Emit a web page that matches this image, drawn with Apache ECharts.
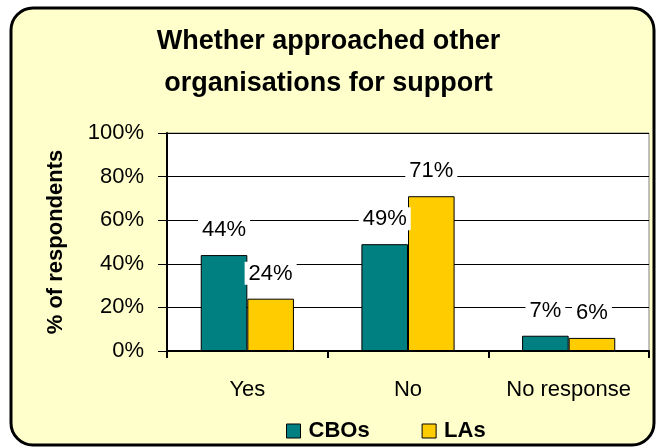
<!DOCTYPE html>
<html><head><meta charset="utf-8">
<script src="https://cdn.jsdelivr.net/npm/echarts@6/dist/echarts.min.js"></script>
<style>html,body{margin:0;padding:0;background:#fff}#c{width:657px;height:448px}</style>
</head><body><div id="c"></div>
<script>
const categories = ['Yes', 'No', 'No response'];
const seriesNames = ['CBOs', 'LAs'];
const cbosValues = [44, 49, 7];
const lasValues = [24, 71, 6];
const yTickValues = [0, 20, 40, 60, 80, 100];
const titleText = 'Whether approached other\norganisations for support';
const yAxisTitle = '% of respondents';

const FONT = '"Liberation Sans", Arial, sans-serif';
const chart = echarts.init(document.getElementById('c'), null, {renderer: 'canvas'});

function barSeries(name, values, color) {
  return {
    name: name,
    type: 'bar',
    data: values,
    barGap: '0%',
    barCategoryGap: '42%',
    itemStyle: {color: color, borderColor: '#000', borderWidth: 1},
    label: {
      show: true, position: 'top', distance: 14,
      formatter: '{c}%', color: '#000', fontFamily: FONT, fontSize: 22,
      backgroundColor: '#fff', padding: [1, 4, 0, 4]
    },
    labelLayout: {hideOverlap: false},
    emphasis: {disabled: true},
    z: 3
  };
}

chart.setOption({
  animation: false,
  backgroundColor: 'transparent',
  graphic: [{
    type: 'rect', z: -10,
    shape: {x: 11, y: 8, width: 643, height: 437, r: 22},
    style: {fill: '#FFFFCC', stroke: '#000', lineWidth: 3}
  }],
  title: {
    text: titleText, left: 'center', top: 21, padding: 0,
    textStyle: {fontFamily: FONT, fontSize: 27, fontWeight: 'bold', color: '#000', lineHeight: 42}
  },
  legend: {
    data: seriesNames, left: 286, top: 420, padding: 0,
    itemWidth: 14, itemHeight: 14, itemGap: 52, icon: 'rect',
    itemStyle: {borderColor: '#000', borderWidth: 1},
    textStyle: {fontFamily: FONT, fontSize: 22, fontWeight: 'bold', color: '#000', padding: [0, 0, 0, 3]},
    selectedMode: false
  },
  grid: {
    left: 167, right: 8, top: 133, bottom: 97,
    show: true, backgroundColor: '#fff', borderColor: '#808080', borderWidth: 1
  },
  xAxis: {
    type: 'category', data: categories,
    axisLine: {lineStyle: {color: '#000', width: 2}},
    axisTick: {show: true, length: 7, interval: 0, lineStyle: {color: '#000', width: 2}},
    axisLabel: {fontFamily: FONT, fontSize: 22, color: '#000', margin: 28, interval: 0, hideOverlap: false}
  },
  yAxis: {
    type: 'value', min: yTickValues[0], max: yTickValues[yTickValues.length - 1],
    interval: yTickValues[1] - yTickValues[0],
    name: yAxisTitle, nameLocation: 'middle', nameRotate: 90, nameGap: 100,
    nameTextStyle: {fontFamily: FONT, fontSize: 22, fontWeight: 'bold', color: '#000'},
    axisLine: {show: true, lineStyle: {color: '#000', width: 2}},
    axisTick: {show: true, length: 9, lineStyle: {color: '#000', width: 1}},
    axisLabel: {fontFamily: FONT, fontSize: 22, color: '#000', margin: 23, formatter: '{value}%'},
    splitLine: {show: true, lineStyle: {color: '#000', width: 1}}
  },
  series: [
    barSeries(seriesNames[0], cbosValues, '#008080'),
    barSeries(seriesNames[1], lasValues, '#FFCC00')
  ]
});
</script>
</body></html>
